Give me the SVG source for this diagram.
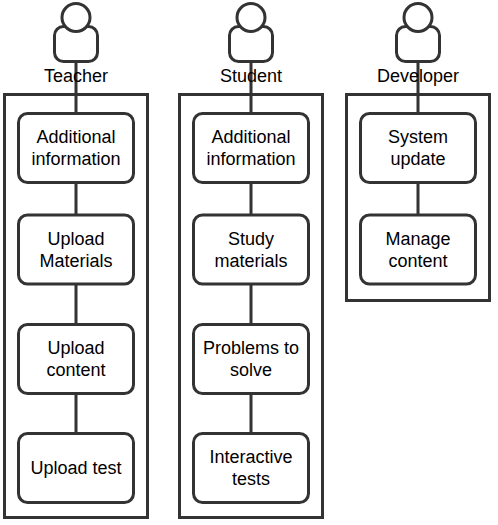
<svg xmlns="http://www.w3.org/2000/svg" width="498" height="525" viewBox="0 0 498 525">
<style>
.c{fill:none;stroke:#333;stroke-width:3}
.l{fill:none;stroke:#333;stroke-width:3}
.n{fill:#fff;stroke:#333;stroke-width:3}
.b{fill:#fff;stroke:#333;stroke-width:3}
text{font-family:"Liberation Sans",Arial,sans-serif;font-size:18px;fill:#000;text-anchor:middle}
</style>
<rect width="498" height="525" fill="#fff"/>
<g id="containers">
<rect id="c-teacher" class="c" x="4.500" y="94.500" width="143" height="423"/>
<rect id="c-student" class="c" x="179.500" y="94.500" width="143" height="423"/>
<rect id="c-developer" class="c" x="346.500" y="94.500" width="143" height="206"/>
</g>
<g id="connectors">
<path class="l" d="M76 62V113M76 182V215M76 284V324M76 393V433"/>
<path class="l" d="M251 62V113M251 182V215M251 284V324M251 393V433"/>
<path class="l" d="M418 62V113M418 182V215"/>
</g>
<g id="actor-teacher">
<rect class="b" x="54.500" y="26.500" width="43" height="35" rx="9"/><circle class="b" cx="76" cy="17.500" r="14"/>
<text x="76" y="82">Teacher</text>
</g>
<g id="actor-student">
<rect class="b" x="229.500" y="26.500" width="43" height="35" rx="9"/><circle class="b" cx="251" cy="17.500" r="14"/>
<text x="251" y="82">Student</text>
</g>
<g id="actor-developer">
<rect class="b" x="396.500" y="26.500" width="43" height="35" rx="9"/><circle class="b" cx="418" cy="17.500" r="14"/>
<text x="418" y="82">Developer</text>
</g>
<g id="t1"><rect class="n" x="18.500" y="113.500" width="115" height="69" rx="9"/><text x="76" y="143">Additional</text><text x="76" y="165">information</text></g>
<g id="t2"><rect class="n" x="18.500" y="215" width="115" height="69" rx="9"/><text x="76" y="245">Upload</text><text x="76" y="267">Materials</text></g>
<g id="t3"><rect class="n" x="18.500" y="324.500" width="115" height="69" rx="9"/><text x="76" y="354">Upload</text><text x="76" y="376">content</text></g>
<g id="t4"><rect class="n" x="18.500" y="433.500" width="115" height="69" rx="9"/><text x="76" y="474">Upload test</text></g>
<g id="s1"><rect class="n" x="193.500" y="113.500" width="115" height="69" rx="9"/><text x="251" y="143">Additional</text><text x="251" y="165">information</text></g>
<g id="s2"><rect class="n" x="193.500" y="215" width="115" height="69" rx="9"/><text x="251" y="245">Study</text><text x="251" y="267">materials</text></g>
<g id="s3"><rect class="n" x="193.500" y="324.500" width="115" height="69" rx="9"/><text x="251" y="354">Problems to</text><text x="251" y="376">solve</text></g>
<g id="s4"><rect class="n" x="193.500" y="433.500" width="115" height="69" rx="9"/><text x="251" y="463">Interactive</text><text x="251" y="485">tests</text></g>
<g id="d1"><rect class="n" x="360.500" y="113.500" width="115" height="69" rx="9"/><text x="418" y="143">System</text><text x="418" y="165">update</text></g>
<g id="d2"><rect class="n" x="360.500" y="215" width="115" height="69" rx="9"/><text x="418" y="245">Manage</text><text x="418" y="267">content</text></g>
</svg>
